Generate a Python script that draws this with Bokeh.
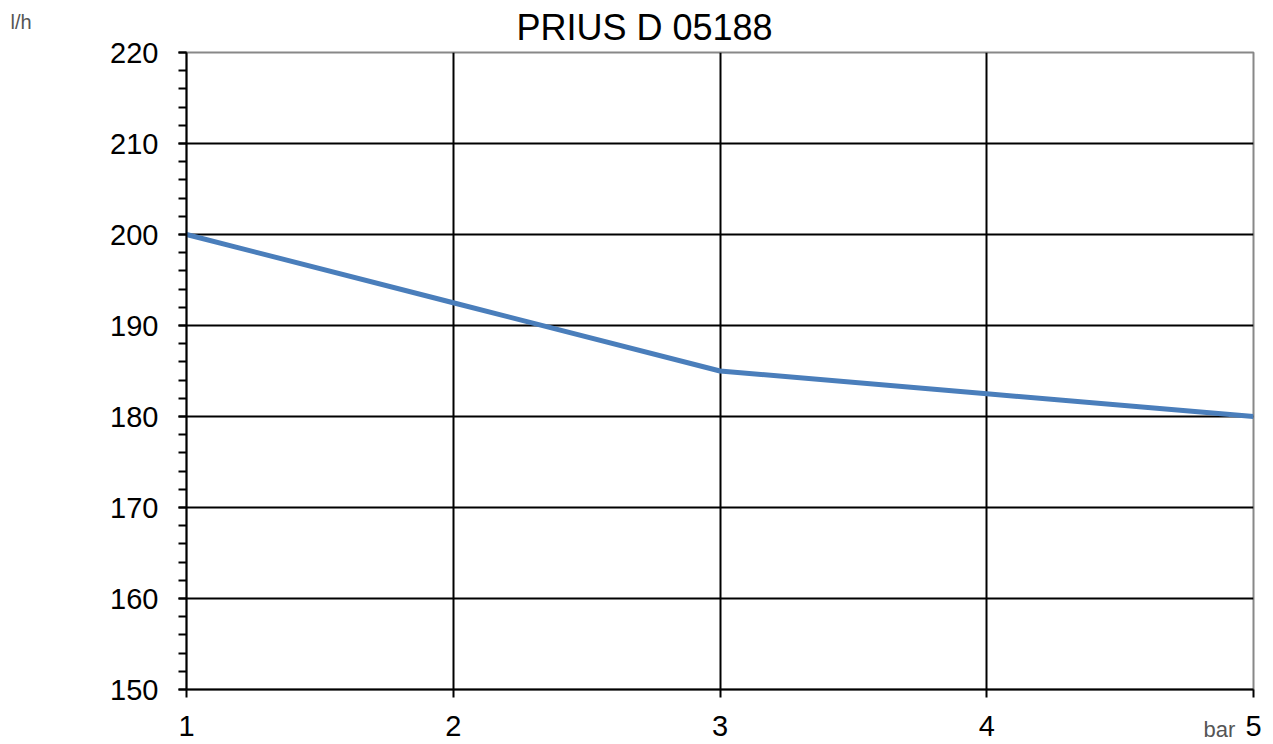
from bokeh.plotting import figure
from bokeh.models import Range1d, SingleIntervalTicker, FixedTicker, Label
from bokeh.embed import file_html
from bokeh.resources import INLINE

title_text = "PRIUS D 05188"
y_unit = "l/h"
x_unit = "bar"
pressure = [1, 2, 3, 4, 5]
flow = [200, 192.5, 185, 182.5, 180]

FONT = "Liberation Sans"

p = figure(width=1273, height=744, output_backend="svg", toolbar_location=None,
           x_range=Range1d(1, 5), y_range=Range1d(150, 220),
           min_border_left=186, min_border_right=20, min_border_top=51, min_border_bottom=55)

p.line(pressure, flow, line_color="#4a7ebb", line_width=5)

p.title.text = title_text
p.title.text_font = FONT
p.title.text_font_size = "36px"
p.title.text_font_style = "normal"
p.title.text_color = "black"
p.title.align = "left"
p.title.offset = 330
p.title.standoff = 9

p.outline_line_color = "#888888"
p.outline_line_width = 2

for ax in (p.xaxis[0], p.yaxis[0]):
    ax.axis_line_color = "black"
    ax.axis_line_width = 2
    ax.major_tick_line_color = "black"
    ax.major_tick_line_width = 2
    ax.minor_tick_line_color = "black"
    ax.minor_tick_line_width = 2
    ax.major_tick_in = 0
    ax.major_tick_out = 8
    ax.minor_tick_in = 0
    ax.major_label_text_font = FONT
    ax.major_label_text_font_size = "29px"
    ax.major_label_text_color = "black"

p.xaxis.ticker = SingleIntervalTicker(interval=1, num_minor_ticks=0)
p.xaxis.minor_tick_out = 0
p.xaxis.major_label_standoff = 18
p.yaxis.ticker = SingleIntervalTicker(interval=10, num_minor_ticks=5)
p.yaxis.minor_tick_out = 8
p.yaxis.major_label_standoff = 20

p.xgrid.ticker = FixedTicker(ticks=[2, 3, 4])
p.ygrid.ticker = FixedTicker(ticks=[160, 170, 180, 190, 200, 210])
p.xgrid.grid_line_color = "black"
p.ygrid.grid_line_color = "black"
p.xgrid.grid_line_width = 2
p.ygrid.grid_line_width = 2

# unit labels live in the (wide) left side panel so they are not clipped to the frame
p.add_layout(Label(x=1, y=220, x_offset=-176, y_offset=31, text=y_unit,
                   text_font=FONT, text_font_size="20px", text_align="left",
                   text_baseline="alphabetic", text_color="#555555"), "left")
p.add_layout(Label(x=5, y=150, x_offset=-50, y_offset=-40, text=x_unit,
                   text_font=FONT, text_font_size="22px", text_align="left",
                   text_baseline="alphabetic", text_color="#555555"), "left")

open("out.html", "w").write(file_html(p, INLINE))
